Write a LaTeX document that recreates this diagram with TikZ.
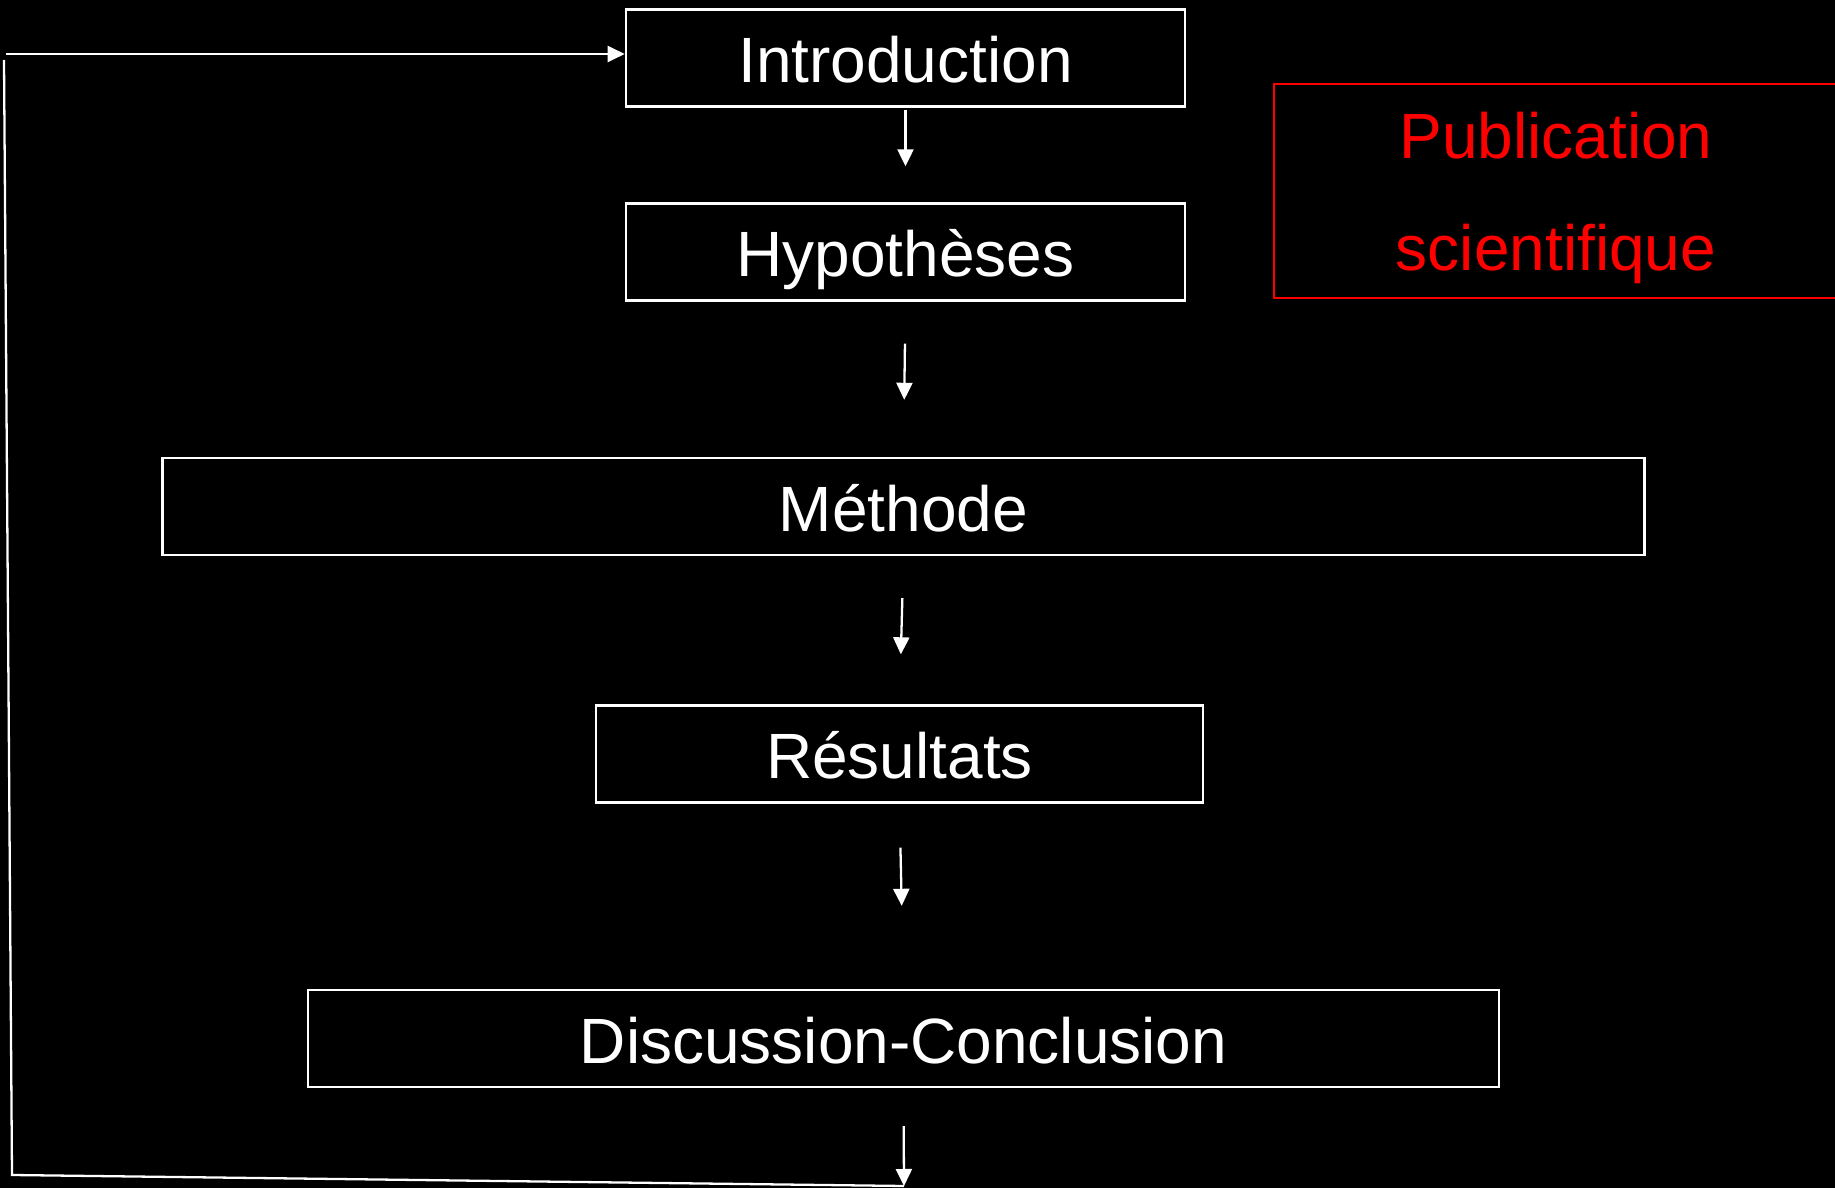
\documentclass[tikz,border=0pt]{standalone}
\usepackage{fontspec}
\setmainfont{Liberation Sans}
\usetikzlibrary{arrows.meta,calc}

\begin{document}
\begin{tikzpicture}[x=0.01cm, y=-0.01cm, >={Triangle[length=0.17cm,width=0.16cm]}, line width=0.65pt, font=\fontsize{18.2}{32}\selectfont]
		\tikzset{
			etape/.style={draw=white, text=white, inner sep=0pt, minimum height=0.97cm, text height=14pt, text depth=0pt},
			fleche/.style={->, white},
		}
		% black background and page size
		\fill[black] (0,0) rectangle (1835,1188);
		\useasboundingbox (0,0) rectangle (1835,1188);
		% steps of the article
		\node[etape, minimum width=5.59cm] (intro) at (905.5,58) {Introduction};
		\node[etape, minimum width=5.59cm] (hyp) at (905.5,252) {Hypothèses};
		\node[etape, minimum width=14.81cm] (meth) at (903.5,506.5) {Méthode};
		\node[etape, minimum width=6.07cm] (res) at (899.5,754) {Résultats};
		\node[etape, minimum width=11.91cm] (disc) at (903.5,1038.5) {Discussion-Conclusion};
		% red label on the right
		\node[draw=red, text=red, align=center, inner sep=0pt, minimum width=5.64cm, minimum height=2.14cm] (pub) at (1556,191) {\rule{0pt}{0.6cm}Publication\\scientifique};
		% short arrows between the steps
		\draw[fleche, shorten <=0.02cm, shorten >=0.36cm] (intro.south) -- (hyp.north);
		\draw[fleche, shorten <=0.42cm, shorten >=0.57cm] (hyp.south) -- (meth.north);
		\draw[fleche, shorten <=0.42cm, shorten >=0.50cm] (meth.south) -- (res.north);
		\draw[fleche, shorten <=0.44cm, shorten >=0.83cm] (res.south) -- (disc.north);
		% loop back to the introduction
		\coordinate (loopbr) at (904,1186);
		\coordinate (loopbl) at (12,1175);
		\coordinate (looptl) at (4,60);
		\coordinate (loopin) at (6,54);
		\draw[fleche, shorten <=0.38cm] (disc.south) -- (loopbr);
		\draw[white] (loopbr) -- (loopbl) -- (looptl);
		\draw[fleche] (loopin) -- (intro.west |- loopin);
	\end{tikzpicture}
\end{document}
